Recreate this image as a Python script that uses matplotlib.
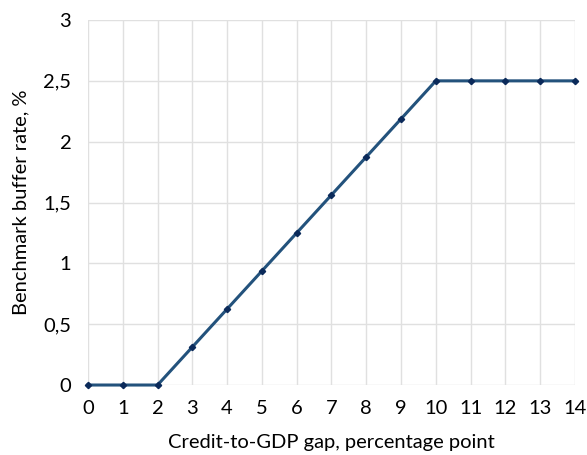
import matplotlib
matplotlib.use("Agg")
import matplotlib.pyplot as plt
from matplotlib.ticker import FuncFormatter

gap = [0, 1, 2, 3, 4, 5, 6, 7, 8, 9, 10, 11, 12, 13, 14]
rate = [0, 0, 0, 0.3125, 0.625, 0.9375, 1.25, 1.5625, 1.875, 2.1875, 2.5, 2.5, 2.5, 2.5, 2.5]
yticks = [0, 0.5, 1, 1.5, 2, 2.5, 3]
xlabel = "Credit-to-GDP gap, percentage point"
ylabel = "Benchmark buffer rate, %"

plt.rcParams['font.family'] = ['Lato', 'DejaVu Sans']
fig = plt.figure(figsize=(5.87, 4.55), dpi=100)
ax = fig.add_axes([0.1499, 0.1538, 0.8296, 0.8022])
ax.plot(gap, rate, color='#23527c', lw=2.2, marker='D', ms=3.2,
        mfc='#0b2a5a', mec='#0b2a5a', zorder=3, clip_on=False)
ax.set_xlim(0, 14)
ax.set_ylim(0, 3)
ax.set_xticks(gap)
ax.set_yticks(yticks)
ax.yaxis.set_major_formatter(FuncFormatter(lambda v, p: ('%g' % v).replace('.', ',')))
for s in ax.spines.values():
    s.set_visible(False)
ax.grid(True, color='#e0e0e0', lw=1)
ax.set_axisbelow(True)
ax.tick_params(length=0, labelsize=14.5, colors='black')
ax.tick_params(axis='x', pad=11)
ax.tick_params(axis='y', pad=12)
ax.set_xlabel(xlabel, fontsize=14.5, labelpad=12)
ax.set_ylabel(ylabel, fontsize=14.5, labelpad=10)
fig.savefig('out.png', dpi=100)
